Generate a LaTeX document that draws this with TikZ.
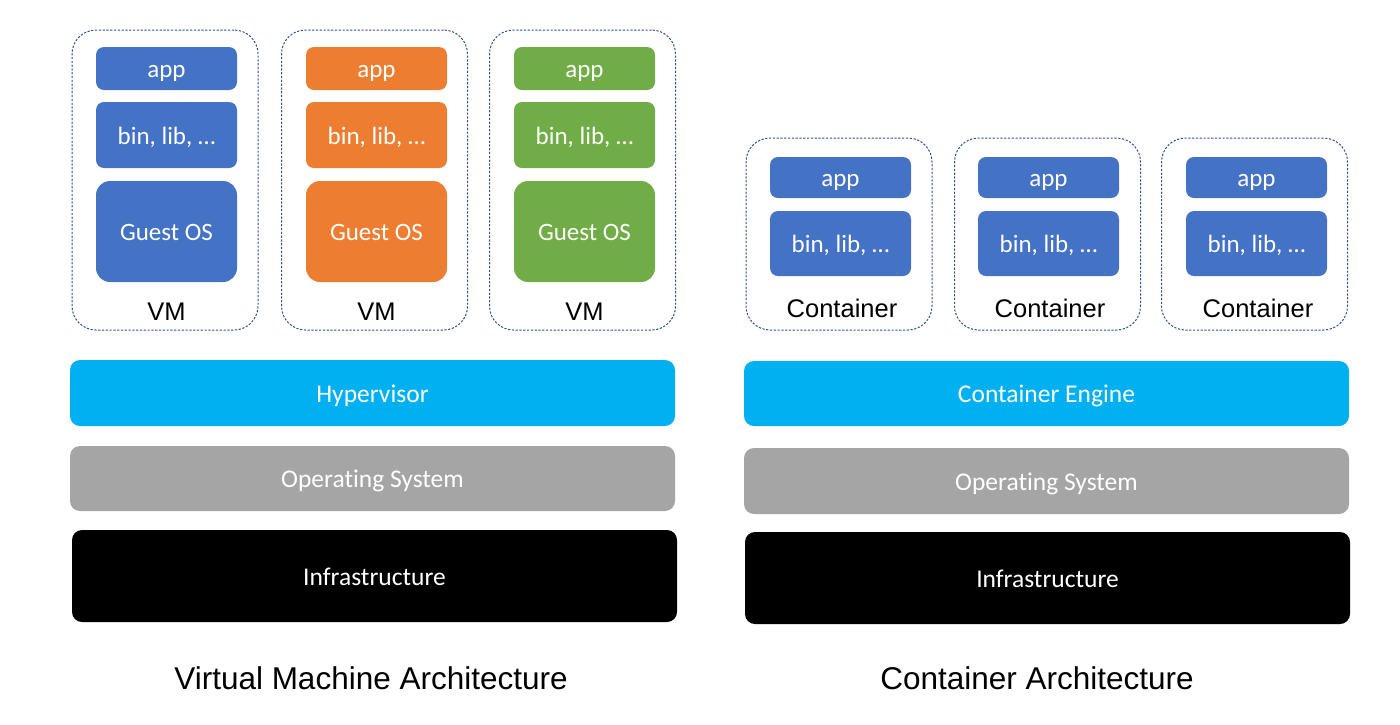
\documentclass[tikz,border=0pt]{standalone}
\usepackage{fontspec}
\setmainfont[Ligatures=NoCommon]{Carlito}
\newfontfamily\arialfont{Liberation Sans}
\definecolor{vmblue}{HTML}{4472C4}
\definecolor{vmorange}{HTML}{ED7D31}
\definecolor{vmgreen}{HTML}{70AD47}
\definecolor{hypcyan}{HTML}{00B0F0}
\definecolor{osgray}{HTML}{A5A5A5}
\definecolor{dashblue}{HTML}{2F528F}
\begin{document}
\begin{tikzpicture}[x=1pt,y=-1pt,
  part/.style={fill=#1,draw=none,rounded corners=8pt,inner sep=0pt,outer sep=0pt,
    minimum width=141pt,text=white,font=\fontsize{25}{28}\selectfont,
    text height=19.5pt,text depth=1.25pt},
  osbox/.style={part=#1,rounded corners=14pt,minimum height=101pt},
  shell/.style={draw=dashblue,line width=1pt,dash pattern=on 2.2pt off 1.6pt,
    rounded corners=24pt,inner sep=0pt,outer sep=0pt,minimum width=186pt},
  layer/.style={fill=#1,draw=none,rounded corners=10pt,inner sep=0pt,outer sep=0pt,
    minimum width=605pt,text=white,font=\fontsize{25.5}{28}\selectfont,
    text height=20pt,text depth=1.25pt},
  tag/.style={font=\arialfont\fontsize{25.5}{28}\selectfont},
  title/.style={font=\arialfont\fontsize{31.5}{34}\selectfont}]
\useasboundingbox (0,0) rectangle (1400,724);
%%%%%% The three VMs on the left
\node[shell, minimum height=300pt] (vm1) at (165, 180) {};
\node[shell, minimum height=300pt] (vm2) at (374.5, 180) {};
\node[shell, minimum height=300pt] (vm3) at (582.5, 180) {};
%%%%% VM 1 (blue)
\node[part=vmblue, minimum height=43pt] (app1) at (166.5, 68.5) {app};
\node[part=vmblue, minimum height=66pt] (bin1) at (166.5, 135) {bin, lib, \dots};
\node[osbox=vmblue] (os1) at (166.5, 231.5) {Guest OS};
\node[tag] (vmlab1) at (166.5, 312) {VM};
%%%%% VM 2 (orange)
\node[part=vmorange, minimum height=43pt] (app2) at (376.5, 68.5) {app};
\node[part=vmorange, minimum height=66pt] (bin2) at (376.5, 135) {bin, lib, \dots};
\node[osbox=vmorange] (os2) at (376.5, 231.5) {Guest OS};
\node[tag] (vmlab2) at (376.5, 312) {VM};
%%%%% VM 3 (green)
\node[part=vmgreen, minimum height=43pt] (app3) at (584.5, 68.5) {app};
\node[part=vmgreen, minimum height=66pt] (bin3) at (584.5, 135) {bin, lib, \dots};
\node[osbox=vmgreen] (os3) at (584.5, 231.5) {Guest OS};
\node[tag] (vmlab3) at (584.5, 312) {VM};
%%%%%% The layers under the VMs
\node[layer=hypcyan, minimum height=66pt] (hyp) at (372.5, 393) {Hypervisor};
\node[layer=osgray, minimum height=65pt] (hostos) at (372.5, 478.5) {Operating System};
\node[layer=black, minimum height=92pt] (infra) at (374.5, 576) {Infrastructure};
\node[title] (vmtitle) at (371, 678) {Virtual Machine Architecture};
%%%%%% The three containers on the right
\node[shell, minimum height=192pt] (ct1) at (839, 234) {};
\node[shell, minimum height=192pt] (ct2) at (1047.5, 234) {};
\node[shell, minimum height=192pt] (ct3) at (1254.5, 234) {};
%
\node[part=vmblue, minimum height=41pt] (capp1) at (840.5, 177.5) {app};
\node[part=vmblue, minimum height=65pt] (cbin1) at (840.5, 243.5) {bin, lib, \dots};
\node[tag] (ctlab1) at (842, 308) {Container};
%
\node[part=vmblue, minimum height=41pt] (capp2) at (1048.5, 177.5) {app};
\node[part=vmblue, minimum height=65pt] (cbin2) at (1048.5, 243.5) {bin, lib, \dots};
\node[tag] (ctlab2) at (1050, 308) {Container};
%
\node[part=vmblue, minimum height=41pt] (capp3) at (1256.5, 177.5) {app};
\node[part=vmblue, minimum height=65pt] (cbin3) at (1256.5, 243.5) {bin, lib, \dots};
\node[tag] (ctlab3) at (1258, 308) {Container};
%%%%%% The layers under the containers
\node[layer=hypcyan, minimum height=65pt] (engine) at (1046.5, 393.5) {Container Engine};
\node[layer=osgray, minimum height=66pt] (hostos2) at (1046.5, 481) {Operating System};
\node[layer=black, minimum height=92pt] (infra2) at (1047.5, 578) {Infrastructure};
\node[title] (cttitle) at (1037, 678) {Container Architecture};
\end{tikzpicture}
\end{document}
